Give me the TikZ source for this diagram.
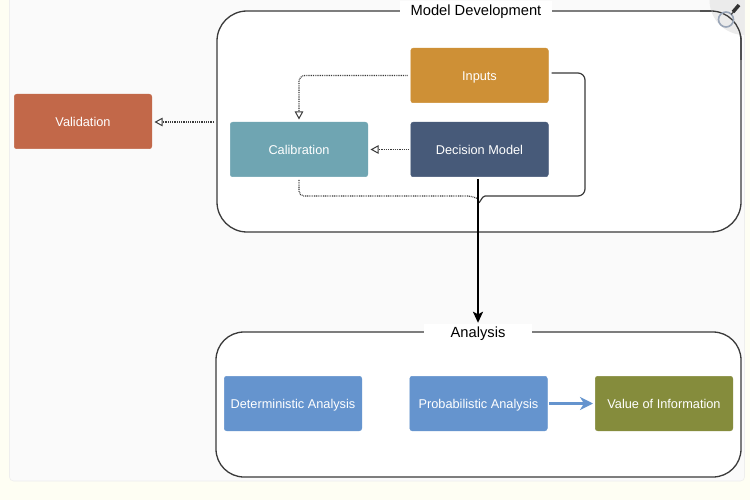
\documentclass[tikz,border=0pt]{standalone}
\usepackage{fontspec}
\setmainfont{Liberation Sans}
\usetikzlibrary{arrows.meta,positioning}
\definecolor{pagebg}{HTML}{FEFEF3}
\definecolor{panelbg}{HTML}{FAFAFA}
\definecolor{panelln}{HTML}{EEEEEE}
\definecolor{cval}{HTML}{C26849}
\definecolor{ccal}{HTML}{6FA5B2}
\definecolor{cinp}{HTML}{CE9036}
\definecolor{cdec}{HTML}{475A79}
\definecolor{cblue}{HTML}{6594CE}
\definecolor{coli}{HTML}{858C3C}
\definecolor{cline}{HTML}{3A3A3A}
\definecolor{clens}{HTML}{9AA6B8}
\tikzset{
  box/.style={draw=#1,fill=#1,rounded corners=2.5pt,line width=.5pt,minimum width=137.5pt,minimum height=54.5pt,inner sep=0pt,text=white,text height=9.6pt,text depth=0pt,font=\fontsize{12.75}{15}\selectfont,anchor=center},
  group/.style={draw=cline,line width=1.3pt,rounded corners=#1,fill=white},
  grouptitle/.style={fill=white,inner sep=0pt,text=black,text height=10.5pt,text depth=0pt,font=\fontsize{14.7}{18}\selectfont,anchor=center},
  dotline/.style={draw=cline,line width=1.2pt,dash pattern=on .9pt off .9pt,rounded corners=6pt},
  opentip/.style={-{Triangle[open,fill=white,length=8pt,width=8.5pt,line width=1pt,sep=0pt]}},
}
\begin{document}
\begin{tikzpicture}[x=1pt,y=-1pt]
\useasboundingbox (0,0) rectangle (750,500);
\fill[pagebg] (0,0) rectangle (750,500);
\fill[panelbg,draw=panelln,line width=.6pt,rounded corners=4pt] (9.5,-6) rectangle (744.5,481);
% containers
\draw[group=30pt] (217,11) rectangle (741,232);
\draw[group=28pt] (216,332) rectangle (741,477);
% magnifier corner
\begin{scope}
\clip (700,0) rectangle (744.5,50);
\fill[black!8] (744.5,0) circle[radius=35pt];
\end{scope}
\draw[cline,line width=1.3pt,rounded corners=30pt] (700,11) -- (741,11) -- (741,60);
\draw[clens,line width=1.6pt] (726,19.5) circle[radius=7.5pt];
\draw[black!70,line width=1.3pt] (731,14.5) -- (734,11.5);
\draw[black!80,line width=3.5pt] (733,12) -- (739,5);
% titles
\node[grouptitle,minimum width=152pt,minimum height=18pt] (mdtitle) at (476,10) {Model Development};
\node[grouptitle,minimum width=108pt,minimum height=16pt] (antitle) at (478,332) {Analysis};
% boxes
\node[box=cval] (val) at (83,121.5) {Validation};
\node[box=ccal] (cal) at (299,149.5) {Calibration};
\node[box=cinp] (inp) at (479.5,75.5) {Inputs};
\node[box=cdec] (dec) at (479.5,149.5) {Decision Model};
\node[box=cblue] (det) at (293,403.5) {Deterministic Analysis};
\node[box=cblue] (pro) at (478.5,403.5) {Probabilistic Analysis};
\node[box=coli] (voi) at (664,403.5) {Value of Information};
% junction and free ends
\coordinate (join) at (478,199);
\coordinate (mdedge) at (214,122);
% connectors
\draw[dotline,opentip,shorten <=3pt,shorten >=2.5pt] (inp.west) -| (cal.north);
\draw[dotline,opentip,shorten <=2pt,shorten >=2.5pt] (dec.west) -- (cal.east);
\draw[dotline,opentip,shorten >=2.5pt] (mdedge) -- (val.east |- mdedge);
\draw[dotline,rounded corners=5pt,shorten <=3pt] (cal.south) |- ([xshift=-6pt,yshift=3pt]join) -- (join);
\draw[draw=cline,line width=1.2pt,rounded corners=7pt] ([xshift=3pt,yshift=2.5pt]inp.east) -- (585,73) |- ([xshift=7pt,yshift=3pt]join);
\draw[draw=cline,line width=1.2pt] ([xshift=7pt,yshift=3pt]join) to[out=180,in=-60] ([yshift=-3pt]join);
\draw[black,line width=2pt,-{Stealth[length=11pt,width=10pt,inset=2.5pt]},shorten <=2pt,shorten >=1pt] (join |- dec.south) -- (join |- antitle.north);
\draw[cblue,line width=2.5pt,-{Stealth[length=13pt,width=13pt,inset=4pt]},shorten <=1.5pt,shorten >=2pt] (pro.east) -- (voi.west);
\end{tikzpicture}
\end{document}
